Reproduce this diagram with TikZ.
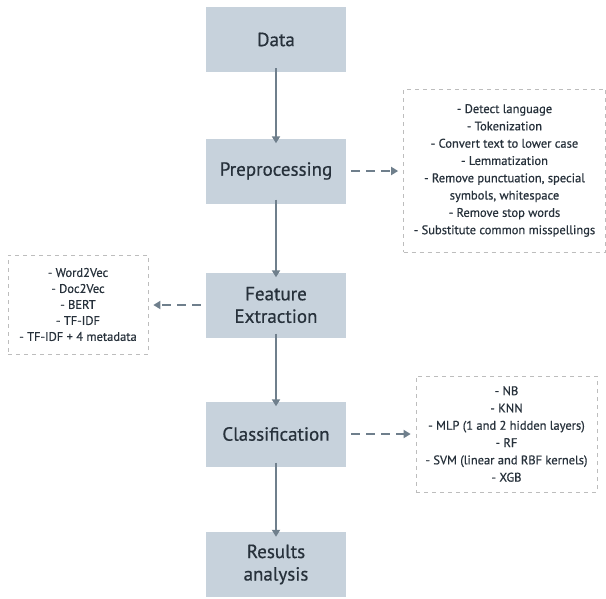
\documentclass[tikz,border=0pt]{standalone}
\usepackage{fontspec}
\setmainfont{PT Sans}[FakeBold=0.6]
\usetikzlibrary{arrows.meta}
\definecolor{boxfill}{HTML}{C7D2DC}
\definecolor{boxtext}{HTML}{27313B}
\definecolor{arr}{HTML}{6F7F8C}
\definecolor{dashgray}{HTML}{BDBDBD}
\tikzset{
  stepbox/.style={fill=boxfill, minimum width=140pt, minimum height=65pt, align=center, text=boxtext, font=\fontsize{19}{22.5}\selectfont, inner sep=0pt},
  listbox/.style={draw=dashgray, line width=0.7pt, dash pattern=on 4pt off 4pt, align=center, text=boxtext, font=\fontsize{12.5}{17.3}\selectfont, inner sep=0pt},
  flow/.style={draw=arr, line width=2.2pt, -{Triangle[length=7pt,width=8pt]}},
  side/.style={draw=arr, line width=2.2pt, dash pattern=on 9pt off 6pt, -{Triangle[length=7pt,width=8pt]}}
}
\begin{document}
\begin{tikzpicture}[x=1pt,y=-1pt]
\useasboundingbox (0,0) rectangle (606,598);
\node[stepbox] (data) at (276,39.5) {Data};
\node[stepbox] (pre) at (276,171) {Preprocessing};
\node[stepbox] (feat) at (276,305) {Feature\\Extraction};
\node[stepbox] (cls) at (276,434) {Classification};
\node[stepbox] (res) at (276,564.5) {Results\\analysis};

\node[listbox, minimum width=202pt, minimum height=163pt] (prel) at (504.5,170.5) {- Detect language\\- Tokenization\\- Convert text to lower case\\- Lemmatization\\- Remove punctuation, special\\symbols, whitespace\\- Remove stop words\\- Substitute common misspellings};
\node[listbox, minimum width=140pt, minimum height=99pt, font=\fontsize{12.5}{16}\selectfont] (featl) at (78,304.5) {- Word2Vec\\- Doc2Vec\\- BERT\\- TF-IDF\\- TF-IDF + 4 metadata};
\node[listbox, minimum width=181pt, minimum height=116pt] (clsl) at (506.5,434) {- NB\\- KNN\\- MLP (1 and 2 hidden layers)\\- RF\\- SVM (linear and RBF kernels)\\- XGB};

\draw[flow] ([yshift=4pt]data.south) -- ([yshift=-5pt]pre.north);
\draw[flow] ([yshift=4pt]pre.south) -- ([yshift=-5pt]feat.north);
\draw[flow] ([yshift=4pt]feat.south) -- ([yshift=-5pt]cls.north);
\draw[flow] ([yshift=4pt]cls.south) -- ([yshift=-5pt]res.north);

\draw[side] ([xshift=5pt]pre.east) -- ([xshift=-5pt]prel.west |- pre.east);
\draw[side] ([xshift=-5pt]feat.west) -- ([xshift=5pt]featl.east |- feat.west);
\draw[side] ([xshift=5pt]cls.east) -- ([xshift=-5pt]clsl.west |- cls.east);
\end{tikzpicture}
\end{document}
